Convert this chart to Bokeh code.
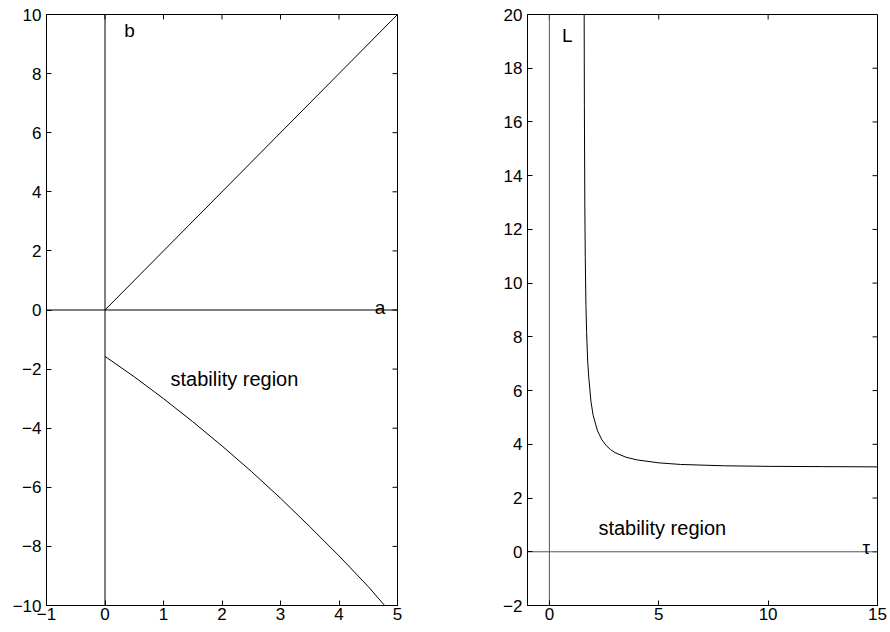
import math
from bokeh.plotting import figure
from bokeh.layouts import row
from bokeh.models import Range1d, FixedTicker
from bokeh.core.properties import value
from bokeh.embed import file_html
from bokeh.resources import INLINE

FONT = "Liberation Sans"

# ---- left panel data (a, b plane) ----
a_ticks = [-1, 0, 1, 2, 3, 4, 5]
b_ticks = [-10, -8, -6, -4, -2, 0, 2, 4, 6, 8, 10]
upper_a = [0, 5]
upper_b = [0, 10]
lower_a = [0, 0.5, 1, 1.5, 2, 2.5, 3, 3.5, 4, 4.5, 4.78]
lower_b = [-1.57, -2.26, -3.0, -3.78, -4.6, -5.46, -6.37, -7.33, -8.32, -9.36, -10.0]
axis_a_x = [-1, 5]
axis_a_y = [0, 0]
axis_b_x = [0, 0]
axis_b_y = [-10, 10]

# ---- right panel data (tau, L plane) ----
tau_ticks = [0, 5, 10, 15]
L_ticks = [-2, 0, 2, 4, 6, 8, 10, 12, 14, 16, 18, 20]
curve_tau = [1.59, 1.60, 1.62, 1.64, 1.67, 1.70, 1.75, 1.80, 1.90, 2.0, 2.2, 2.4,
             2.6, 2.8, 3.0, 3.5, 4, 5, 6, 8, 10, 12.5, 15]
curve_L = [20, 16.6, 12.9, 11.0, 9.2, 8.2, 7.1, 6.5, 5.6, 5.08, 4.5, 4.17,
           3.95, 3.8, 3.69, 3.52, 3.42, 3.31, 3.25, 3.2, 3.18, 3.17, 3.16]
axis_tau_x = [-1, 15]
axis_tau_y = [0, 0]
axis_L_x = [0, 0]
axis_L_y = [-2, 20]


def minus(v):
    return str(v).replace("-", "\u2212")


def style(p, xt, yt, xmax, ymax):
    p.xgrid.visible = False
    p.ygrid.visible = False
    p.outline_line_color = "black"
    p.outline_line_width = 1
    for ax, ticks in ((p.xaxis[0], xt), (p.yaxis[0], yt)):
        ax.ticker = FixedTicker(ticks=ticks)
        ax.major_tick_in = 5
        ax.major_tick_out = 0
        ax.minor_tick_line_color = None
        ax.axis_line_color = "black"
        ax.major_tick_line_color = "black"
        ax.major_label_text_font = FONT
        ax.major_label_text_font_size = "17px"
        ax.major_label_text_color = "black"
        ax.major_label_overrides = {t: minus(t) for t in ticks}
    p.xaxis[0].major_label_standoff = 2
    p.yaxis[0].major_label_standoff = 5
    # inward ticks on the top and right frame edges (no labels)
    p.ray(x=xt, y=[ymax] * len(xt), length=5, length_units="screen",
          angle=-math.pi / 2, line_color="black", line_width=1)
    p.ray(x=[xmax] * len(yt), y=yt, length=5, length_units="screen",
          angle=math.pi, line_color="black", line_width=1)


# ---- left figure ----
p1 = figure(width=440, height=632, x_range=Range1d(-1, 5), y_range=Range1d(-10, 10),
            output_backend="svg", toolbar_location=None,
            min_border_left=46, min_border_right=43, min_border_top=14, min_border_bottom=27)
style(p1, a_ticks, b_ticks, 5, 10)
p1.line(axis_a_x, axis_a_y, line_color="black", line_width=1)
p1.line(axis_b_x, axis_b_y, line_color="black", line_width=1)
p1.line(upper_a, upper_b, line_color="black", line_width=1)
p1.line(lower_a, lower_b, line_color="black", line_width=1)
p1.text(x=[0.33], y=[9.46], text=["b"], text_font=value(FONT), text_font_size="19px",
        text_baseline="alphabetic", text_align="left", text_color="black")
p1.text(x=[4.61], y=[0.08], text=["a"], text_font=value(FONT), text_font_size="19px",
        text_baseline="alphabetic", text_align="left", text_color="black")
p1.text(x=[1.12], y=[-2.32], text=["stability region"], text_font=value(FONT),
        text_font_size="20px", text_baseline="alphabetic", text_align="left",
        text_color="black")

# ---- right figure ----
p2 = figure(width=450, height=632, x_range=Range1d(-1, 15), y_range=Range1d(-2, 20),
            output_backend="svg", toolbar_location=None,
            min_border_left=87, min_border_right=13, min_border_top=14, min_border_bottom=27)
style(p2, tau_ticks, L_ticks, 15, 20)
p2.line(axis_tau_x, axis_tau_y, line_color="#555555", line_width=1)
p2.line(axis_L_x, axis_L_y, line_color="#555555", line_width=1)
p2.line(curve_tau, curve_L, line_color="black", line_width=1)
p2.text(x=[0.58], y=[19.22], text=["L"], text_font=value(FONT), text_font_size="19px",
        text_baseline="alphabetic", text_align="left", text_color="black")
p2.text(x=[14.31], y=[0.16], text=["\u03c4"], text_font=value(FONT), text_font_size="19px",
        text_baseline="alphabetic", text_align="left", text_color="black")
p2.text(x=[2.24], y=[0.87], text=["stability region"], text_font=value(FONT),
        text_font_size="20px", text_baseline="alphabetic", text_align="left",
        text_color="black")

layout = row(p1, p2)
open("out.html", "w").write(file_html(layout, INLINE))
